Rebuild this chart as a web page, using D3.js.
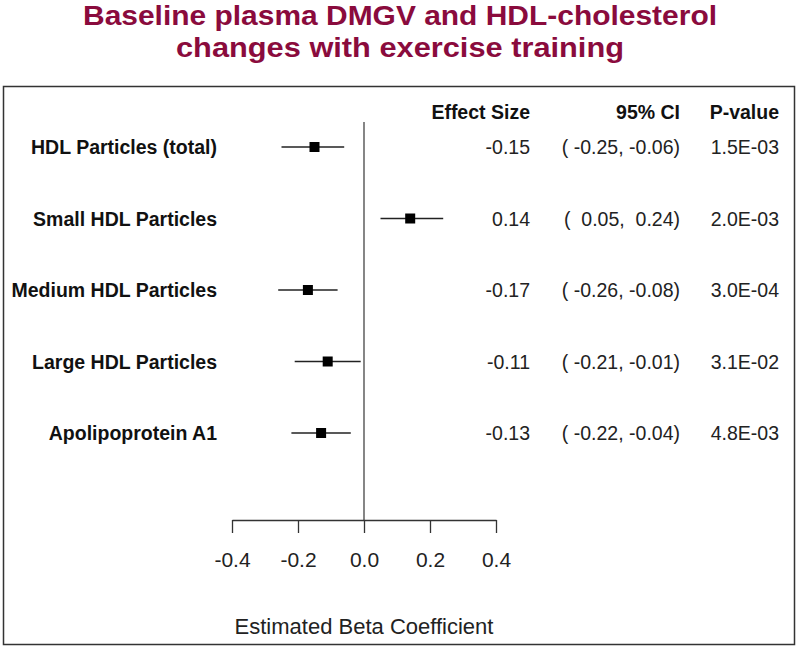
<!DOCTYPE html>
<html><head><meta charset="utf-8">
<script src="https://cdn.jsdelivr.net/npm/d3@7"></script>
<style>
html,body{margin:0;padding:0;background:#fff;}
svg text{font-family:"Liberation Sans",Arial,Helvetica,sans-serif;}
</style></head>
<body><svg id="chart" width="800" height="648"></svg>
<script>
const titleLines = ["Baseline plasma DMGV and HDL-cholesterol", "changes with exercise training"];
const labels = ["HDL Particles (total)", "Small HDL Particles", "Medium HDL Particles", "Large HDL Particles", "Apolipoprotein A1"];
const effect = [-0.15, 0.14, -0.17, -0.11, -0.13];
const lower = [-0.25, 0.05, -0.26, -0.21, -0.22];
const upper = [-0.06, 0.24, -0.08, -0.01, -0.04];
const effectText = ["-0.15", "0.14", "-0.17", "-0.11", "-0.13"];
const ciText = ["( -0.25, -0.06)", "(  0.05,  0.24)", "( -0.26, -0.08)", "( -0.21, -0.01)", "( -0.22, -0.04)"];
const pText = ["1.5E-03", "2.0E-03", "3.0E-04", "3.1E-02", "4.8E-03"];
const headers = ["Effect Size", "95% CI", "P-value"];
const xTicks = [-0.4, -0.2, 0.0, 0.2, 0.4];
const xTitle = "Estimated Beta Coefficient";

const svg = d3.select("#chart");

// title
const titleW = [634, 448];
const titleY = [25, 57];
svg.selectAll("text.title").data(titleLines).join("text")
  .attr("class", "title")
  .attr("x", 400).attr("y", (d, i) => titleY[i])
  .attr("text-anchor", "middle")
  .attr("font-size", 28).attr("font-weight", "bold")
  .attr("fill", "#8a0b3d")
  .attr("textLength", (d, i) => titleW[i]).attr("lengthAdjust", "spacingAndGlyphs")
  .text(d => d);

// border
svg.append("rect").attr("x", 3.5).attr("y", 86.5).attr("width", 791).attr("height", 558)
  .attr("fill", "none").attr("stroke", "#333").attr("stroke-width", 1.5);

const x = d3.scaleLinear().domain([-0.4, 0.4]).range([232, 496]);
const y = d3.scalePoint().domain(labels).range([147, 433]);

// zero line
svg.append("line").attr("x1", x(0)).attr("x2", x(0)).attr("y1", 122).attr("y2", 520)
  .attr("stroke", "#444").attr("stroke-width", 1.3);

// axis
const axis = d3.axisBottom(x).tickValues(xTicks).tickSize(13).tickSizeOuter(0).tickPadding(19)
  .tickFormat(d => d.toFixed(1));
const gA = svg.append("g").attr("transform", "translate(0,520)").call(axis);
gA.select(".domain").attr("stroke", "#333").attr("stroke-width", 1.3);
gA.selectAll(".tick line").attr("stroke", "#333").attr("stroke-width", 1.3);
gA.selectAll(".tick text").attr("font-size", 21).attr("fill", "#222")
  .attr("font-family", "Liberation Sans, Arial, sans-serif");

svg.append("text").attr("x", x(0)).attr("y", 634).attr("text-anchor", "middle")
  .attr("font-size", 22).attr("fill", "#222").text(xTitle);

// row labels
svg.selectAll("text.lab").data(labels).join("text").attr("class", "lab")
  .attr("x", 217).attr("y", d => y(d) + 7).attr("text-anchor", "end")
  .attr("font-size", 19.5).attr("font-weight", "bold").attr("fill", "#111").text(d => d);

// CI lines and squares
const rows = labels.map((l, i) => ({l, e: effect[i], lo: lower[i], hi: upper[i]}));
svg.selectAll("line.ci").data(rows).join("line").attr("class", "ci")
  .attr("x1", d => x(d.lo)).attr("x2", d => x(d.hi))
  .attr("y1", d => y(d.l)).attr("y2", d => y(d.l))
  .attr("stroke", "#222").attr("stroke-width", 1.5);
svg.selectAll("rect.pt").data(rows).join("rect").attr("class", "pt")
  .attr("x", d => x(d.e) - 5).attr("y", d => y(d.l) - 5)
  .attr("width", 10).attr("height", 10).attr("fill", "#000");

// column headers
const colX = [530, 680, 779];
svg.selectAll("text.hdr").data(headers).join("text").attr("class", "hdr")
  .attr("x", (d, i) => colX[i]).attr("y", 119).attr("text-anchor", "end")
  .attr("font-size", 19.5).attr("font-weight", "bold").attr("fill", "#111").text(d => d);

// column values
[effectText, ciText, pText].forEach((arr, c) => {
  svg.selectAll("text.col" + c).data(arr).join("text").attr("class", "col" + c)
    .attr("x", colX[c]).attr("y", (d, i) => y(labels[i]) + 7).attr("text-anchor", "end")
    .attr("font-size", 19.5).attr("fill", "#222").style("white-space", "pre").text(d => d);
});
</script></body></html>
